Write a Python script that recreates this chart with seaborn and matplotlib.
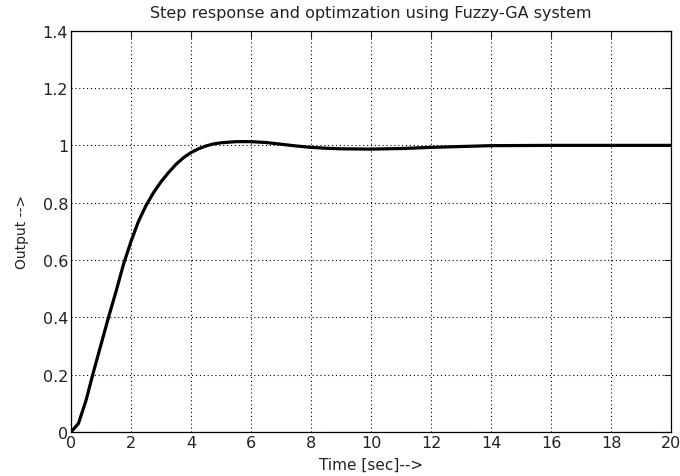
import pandas as pd
import matplotlib
matplotlib.use("Agg")
import matplotlib.pyplot as plt
import seaborn as sns

# step response
time_sec = [0, 0.25, 0.5, 0.75, 1.0, 1.25, 1.5, 1.75, 2.0, 2.25, 2.5, 2.75,
            3.0, 3.25, 3.5, 3.75, 4.0, 4.25, 4.5, 4.75, 5.0, 5.5, 6.0, 6.5,
            7.0, 7.5, 8.0, 8.5, 9.0, 10.0, 11.0, 12.0, 13.0, 14.0, 16.0, 18.0, 20.0]
output = [0.0, 0.03, 0.11, 0.21, 0.305, 0.40, 0.49, 0.585, 0.665, 0.735, 0.79, 0.835,
          0.873, 0.905, 0.934, 0.957, 0.975, 0.988, 0.998, 1.005, 1.009, 1.013, 1.013, 1.01,
          1.004, 0.998, 0.993, 0.99, 0.988, 0.987, 0.989, 0.993, 0.996, 0.999, 1.0, 1.0, 1.0]

x_ticks = [0, 2, 4, 6, 8, 10, 12, 14, 16, 18, 20]
y_ticks = [0, 0.2, 0.4, 0.6, 0.8, 1.0, 1.2, 1.4]
y_tick_labels = ["0", "0.2", "0.4", "0.6", "0.8", "1", "1.2", "1.4"]

df = pd.DataFrame({"time": time_sec, "output": output})

sns.set_style("white")
plt.rcParams["font.family"] = ["DejaVu Sans"]

fig = plt.figure(figsize=(6.8, 4.77), dpi=100)
ax = fig.add_axes([0.1044, 0.0922, 0.8824, 0.8413])

sns.lineplot(data=df, x="time", y="output", color="black", linewidth=2.3, ax=ax)

ax.set_xlim(0, 20)
ax.set_ylim(0, 1.4)
ax.set_xticks(x_ticks)
ax.set_yticks(y_ticks)
ax.set_yticklabels(y_tick_labels)
ax.grid(True, color="black", linestyle=(0, (1, 2.5)), linewidth=0.8)
ax.tick_params(direction="in", length=5, width=0.8, top=True, right=True,
               labelsize=11.5, colors="#222222", pad=2)
for side in ax.spines.values():
    side.set_color("black")
    side.set_linewidth(0.9)

ax.set_title("Step response and optimzation using Fuzzy-GA system", fontsize=11.5, pad=10, color="#222222")
ax.set_xlabel("Time [sec]-->", fontsize=11, labelpad=5, color="#222222")
ax.set_ylabel("Output -->", fontsize=10, labelpad=10, color="#222222")

fig.savefig("out.png", dpi=100)
